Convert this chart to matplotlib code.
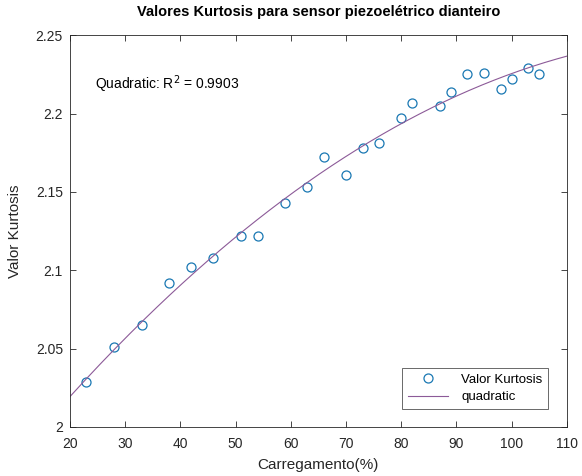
import numpy as np
import matplotlib
matplotlib.use("Agg")
import matplotlib.pyplot as plt

plt.rcParams['font.family'] = ['Liberation Sans', 'DejaVu Sans']

# data
carregamento = [23, 28, 33, 38, 42, 46, 51, 54, 59, 63, 66, 70,
                73, 76, 80, 82, 87, 89, 92, 95, 98, 100, 103, 105]
kurtosis = [2.029, 2.051, 2.065, 2.092, 2.102, 2.108, 2.122, 2.122,
            2.143, 2.153, 2.172, 2.161, 2.178, 2.181, 2.197, 2.207,
            2.205, 2.214, 2.225, 2.226, 2.216, 2.222, 2.229, 2.225]
x_ticks = [20, 30, 40, 50, 60, 70, 80, 90, 100, 110]
y_ticks = [2, 2.05, 2.1, 2.15, 2.2, 2.25]
y_tick_labels = ['2', '2.05', '2.1', '2.15', '2.2', '2.25']

# quadratic fit of the points
coef = np.polyfit(carregamento, kurtosis, 2)
xf = np.linspace(20, 110, 200)
yf = np.polyval(coef, xf)

fig = plt.figure(figsize=(5.82, 4.76), dpi=100)
ax = fig.add_axes([0.120, 0.103, 0.854, 0.823])

ax.plot(carregamento, kurtosis, 'o', mfc='none', mec=(0.1, 0.47, 0.7),
        ms=6.5, mew=0.9, label='Valor Kurtosis')
ax.plot(xf, yf, '-', color='#8c5a98', lw=0.8, label='quadratic')

ax.set_xlim(20, 110)
ax.set_ylim(2, 2.25)
ax.set_xticks(x_ticks)
ax.set_yticks(y_ticks)
ax.set_yticklabels(y_tick_labels)
ax.tick_params(direction='in', top=True, right=True, length=4, width=0.6,
               labelsize=10, colors='#262626')
ax.tick_params(axis='x', pad=7)
ax.tick_params(axis='y', pad=5)
for s in ax.spines.values():
    s.set_linewidth(0.6)
    s.set_color('#262626')

ax.set_xlabel('Carregamento(%)', fontsize=11, color='#262626', labelpad=5)
ax.set_ylabel('Valor Kurtosis', fontsize=11, color='#262626', labelpad=10)
ax.set_title('Valores Kurtosis para sensor piezoelétrico dianteiro',
             fontsize=10.5, fontweight='bold', pad=14)

ax.text(24.5, 2.2185, 'Quadratic: R$^2$ = 0.9903', fontsize=10, va='center')

leg = ax.legend(loc='lower right', bbox_to_anchor=(0.976, 0.028), fontsize=9.5,
                frameon=True, fancybox=False, edgecolor='#262626',
                handlelength=3.0, borderpad=0.45, labelspacing=0.4,
                handletextpad=1.0)
leg.get_frame().set_linewidth(0.6)

fig.savefig('out.png', dpi=100)
